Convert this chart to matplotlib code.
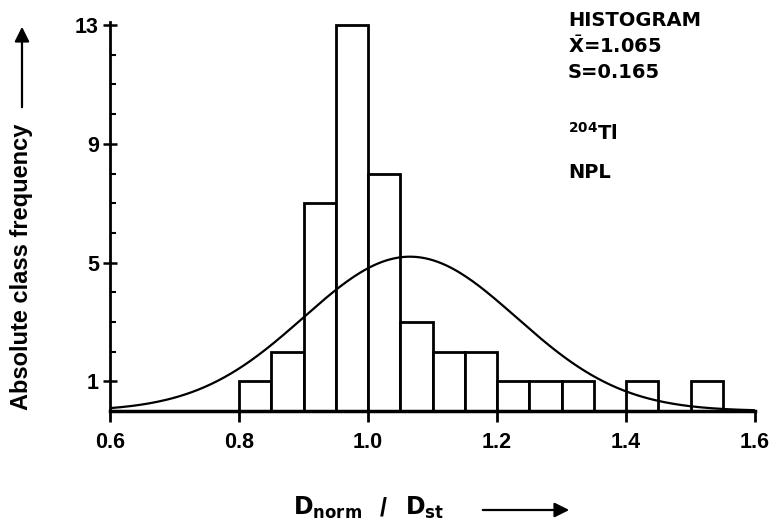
import numpy as np
import matplotlib.pyplot as plt
from matplotlib.ticker import MultipleLocator

# class limits (width 0.05) and absolute counts per class
bin_left = [0.80, 0.85, 0.90, 0.95, 1.00, 1.05, 1.10, 1.15, 1.20, 1.25, 1.30, 1.35, 1.40, 1.45, 1.50]
counts = [1, 2, 7, 13, 8, 3, 2, 2, 1, 1, 1, 0, 1, 0, 1]
bin_width = 0.05

mean = 1.065
sdev = 0.165

x_ticks = [0.6, 0.8, 1.0, 1.2, 1.4, 1.6]
y_ticks = [1, 5, 9, 13]

plt.rcParams['font.family'] = ['Liberation Sans', 'DejaVu Sans']

fig = plt.figure(figsize=(7.77, 5.26), dpi=100)
ax = fig.add_axes([0.1416, 0.2186, 0.8301, 0.7394])

ax.bar(bin_left, counts, width=bin_width, align='edge',
       facecolor='white', edgecolor='black', linewidth=2, zorder=2)

# fitted normal curve scaled to the number of counts
n = sum(counts)
xs = np.linspace(0.6, 1.6, 300)
ys = n * bin_width / (sdev * np.sqrt(2 * np.pi)) * np.exp(-0.5 * ((xs - mean) / sdev) ** 2)
ax.plot(xs, ys, color='black', linewidth=1.6, zorder=3)

ax.set_xlim(0.6, 1.6)
ax.set_ylim(0, 13.1)
ax.set_xticks(x_ticks)
ax.set_xticklabels(['%.1f' % t for t in x_ticks], fontweight='bold')
ax.set_yticks(y_ticks)
ax.set_yticklabels([str(t) for t in y_ticks], fontweight='bold')
ax.yaxis.set_minor_locator(MultipleLocator(1))

for side in ['top', 'right']:
    ax.spines[side].set_visible(False)
ax.spines['left'].set_linewidth(2)
ax.spines['bottom'].set_linewidth(2.5)

ax.tick_params(axis='x', direction='out', length=8, width=2, labelsize=15.5, pad=7)
ax.tick_params(axis='y', which='major', direction='inout', length=10, width=1.8, labelsize=15.5, pad=3)
ax.tick_params(axis='y', which='minor', direction='in', length=4, width=1.5)

# axis titles with arrows
fig.text(22 / 777, 1 - 267 / 526, 'Absolute class frequency', rotation=90,
         ha='center', va='center', fontsize=17, fontweight='bold')
ax.annotate('', xy=(22 / 777, 1 - 24 / 526), xytext=(22 / 777, 1 - 110 / 526),
            xycoords='figure fraction',
            arrowprops=dict(arrowstyle='-|>', color='black', lw=1.6, mutation_scale=22))

fig.text(293 / 777, 1 - 508 / 526, r'$\mathbf{D_{norm}}$', ha='left', va='center',
         fontsize=17)
fig.text(383 / 777, 1 - 508 / 526, '/', ha='center', va='center',
         fontsize=18, fontweight='bold')
fig.text(405 / 777, 1 - 508 / 526, r'$\mathbf{D_{st}}$', ha='left', va='center',
         fontsize=17)
ax.annotate('', xy=(572 / 777, 1 - 510 / 526), xytext=(480 / 777, 1 - 510 / 526),
            xycoords='figure fraction',
            arrowprops=dict(arrowstyle='-|>', color='black', lw=1.6, mutation_scale=22))

# statistics block
info = dict(ha='left', va='center', fontsize=14, fontweight='bold', family='DejaVu Sans')
fig.text(568 / 777, 1 - 20 / 526, 'HISTOGRAM', **info)
fig.text(568 / 777, 1 - 46 / 526, r'$\bar{\mathbf{X}}$=1.065', **info)
fig.text(568 / 777, 1 - 73 / 526, 'S=0.165', **info)
fig.text(568 / 777, 1 - 133 / 526, r'$^{\mathbf{204}}$Tl', **info)
fig.text(568 / 777, 1 - 173 / 526, 'NPL', **info)

fig.savefig('out.png', dpi=100)
